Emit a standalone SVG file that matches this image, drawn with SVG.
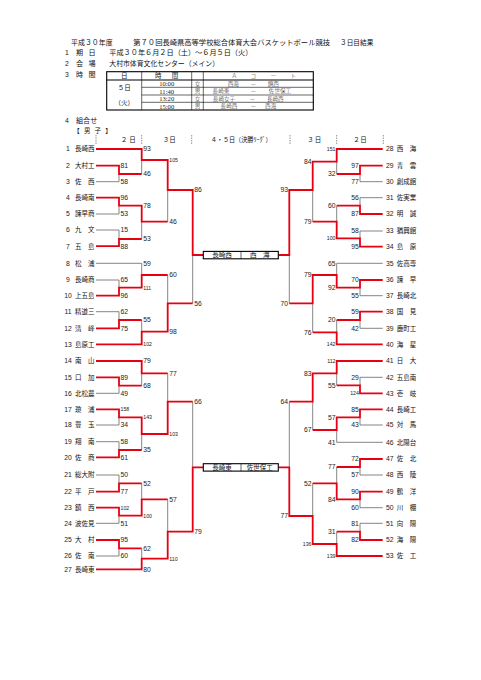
<svg xmlns="http://www.w3.org/2000/svg" width="481" height="680" viewBox="0 0 481 680">
<style>
.r{stroke:#e60012;stroke-width:1.8;fill:none}
.g{stroke:#666;stroke-width:0.8;fill:none}
.j{font-family:"Noto Sans CJK JP",sans-serif;font-size:6.5px;fill:#111}
.h{font-family:"Noto Sans CJK JP",sans-serif;font-size:7.1px;fill:#111}
.l{font-family:"Noto Sans CJK JP",sans-serif;font-size:5.6px;fill:#222;font-weight:300}
.d{font-family:"Liberation Sans",Arial,sans-serif;font-size:6.8px;fill:#222}
.s{font-size:5.2px}
.e{text-anchor:end}
.m{text-anchor:middle}
.sf{font-family:"Liberation Serif",serif;font-size:6.6px;fill:#222}
.tk{stroke:#777;stroke-width:0.8;stroke-dasharray:1.5 1}
.to{stroke:#000;stroke-width:1.1;fill:none}
.ti{stroke:#000;stroke-width:0.6;fill:none}
.bx{stroke:#000;stroke-width:1.1;fill:#fff}
</style>
<rect width="481" height="680" fill="#fff"/>

<g id="title">
<text class="h" x="71" y="45" textLength="41.7" lengthAdjust="spacingAndGlyphs">平成３０年度</text>
<text class="h" x="133.3" y="45" textLength="196.7" lengthAdjust="spacingAndGlyphs">第７０回長崎県高等学校総合体育大会バスケットボール競技</text>
<text class="h" x="340" y="45" textLength="33.3" lengthAdjust="spacingAndGlyphs">３日目結果</text>
</g>

<g id="info">
<text class="d" x="65" y="55">1</text><text class="h" x="76" y="55">期</text><text class="h" x="88.5" y="55">日</text>
<text class="h" x="109.3" y="55" textLength="143" lengthAdjust="spacingAndGlyphs">平成３０年６月２日（土）～６月５日（火）</text>
<text class="d" x="65" y="66">2</text><text class="h" x="76" y="66">会</text><text class="h" x="88.5" y="66">場</text>
<text class="h" x="109.3" y="66" textLength="109.7" lengthAdjust="spacingAndGlyphs">大村市体育文化センター（メイン）</text>
<text class="d" x="65" y="77">3</text><text class="h" x="76" y="77">時</text><text class="h" x="88.5" y="77">間</text>
<text class="d" x="65" y="122.7">4</text><text class="h" x="76" y="122.7">組合せ</text>
</g>

<g id="schedule">
<rect class="to" x="106.7" y="71.7" width="206.6" height="38.3"/>
<path class="to" d="M106.7,80H313.3"/>
<path class="ti" d="M141.7,87.3H313.3M141.7,95H313.3M141.7,102.3H313.3M141.7,71.7V110M191.7,71.7V110M203.3,71.7V110"/>
<text class="j m" x="124.3" y="78.2">日</text>
<text class="j m" x="158.3" y="78.2">時</text><text class="j m" x="175" y="78.2">間</text>
<text class="l m" x="234.3" y="78.1">Ａ</text><text class="l m" x="253.3" y="78.1">コ</text><text class="l m" x="273.3" y="78.1">ー</text><text class="l m" x="293.3" y="78.1">ト</text>
<text class="j m" x="124.3" y="89.9">５日</text>
<text class="j m" x="124.3" y="104.9">（火）</text>
<text class="sf m" x="166.7" y="85.9">10:00</text>
<text class="sf m" x="166.7" y="93.5">11:40</text>
<text class="sf m" x="166.7" y="101">13:20</text>
<text class="sf m" x="166.7" y="108.5">15:00</text>
<text class="l m" x="197.5" y="85.8">女</text>
<text class="l m" x="197.5" y="93.3">男</text>
<text class="l m" x="197.5" y="100.8">女</text>
<text class="l m" x="197.5" y="108.3">男</text>
<text class="l m" x="233.3" y="85.8">西海</text><text class="l m" x="253.3" y="85.8">－</text><text class="l m" x="273.3" y="85.8">鎮西</text>
<text class="l m" x="221" y="93.3">長崎東</text><text class="l m" x="253.3" y="93.3">－</text><text class="l m" x="280" y="93.3">佐世保工</text>
<text class="l m" x="224" y="100.8">長崎女子</text><text class="l m" x="252.3" y="100.8">－</text><text class="l m" x="275.3" y="100.8">長崎西</text>
<text class="l m" x="229" y="108.3">長崎西</text><text class="l m" x="253.3" y="108.3">－</text><text class="l m" x="270.7" y="108.3">西海</text>
</g>

<g id="bracket-header">
<text class="j" x="73.3" y="132.5" textLength="38.4" lengthAdjust="spacing">【 男 子 】</text>
<path class="tk" d="M96,135V145M141.7,135V145M191.7,135V145M290,135V145M336.7,135V145M383.3,135V145"/>
<text class="j m" x="128.3" y="142.4" textLength="15" lengthAdjust="spacing">２日</text>
<text class="j m" x="169.2" y="142.4" textLength="13" lengthAdjust="spacing">３日</text>
<text class="j" x="210.7" y="142.4" textLength="61" lengthAdjust="spacingAndGlyphs">４・５日（決勝ﾘｰｸﾞ）</text>
<text class="j m" x="314.2" y="142.4" textLength="14" lengthAdjust="spacing">３日</text>
<text class="j m" x="360" y="142.4" textLength="13.5" lengthAdjust="spacing">２日</text>
</g>

<g id="connectors">
<path class="g" d="M141.7,160V174M96,181.7H119V174M96,214H119V205.7M141.7,221.7V239M96,230H119V239M167.7,190V221.7M192.7,255V303.3M96,263.3H141.7V275M96,280H119V287.7M96,311.7H119V320M141.7,320V331.7M167.7,275V303.3M141.7,373.3V385.7M96,393.3H119V385.7M96,425H119V417.3M96,441.7H119V450M141.7,450V434M167.7,373.3V401.7M192.7,401.7V467.3M96,475H119V483.3M141.7,483.3V499.3M96,523.3H119V515.7M167.7,499.3V531.7M96,556H119V548.3M141.7,548.3V558.7"/>
<path class="g" d="M336.7,161.7V174M382.7,181.7H360V174M382.7,197.7H360V205.7M336.7,205.7V221.7M382.7,231H360V238.3M312.7,190V221.7M289.3,255V303.3M382.7,263.3H336.7V275M382.7,295.7H360V287.7M382.7,328.3H360V320M336.7,320V332.3M312.7,303.3V332.3M336.7,373.3V385.3M382.7,377.3H360V385.3M382.7,425H360V417.3M382.7,442.3H336.7V430M312.7,401.7V430M289.3,401.7V467.3M382.7,475H360V467M336.7,467V483.3M382.7,507.7H360V499.3M312.7,483.3V516M382.7,523.3H360V531.7M336.7,531.7V544"/>
<path class="r" d="M96,149H141.7V160H167.7V190H192.7V255H203.3M96,165.7H119V174H141.7M96,197.7H119V205.7H141.7V221.7H167.7M96,246.2H119V239H141.7M96,295.7H119V287.7H141.7V275H167.7M96,328.3H119V320H141.7M96,344.3H141.7V331.7H167.7V303.3H192.7M96,361H141.7V373.3H167.7M96,377.3H119V385.7H141.7M96,409.3H119V417.3H141.7V434H167.7V401.7H192.7M96,457.3H119V450H141.7M96,491.7H119V483.3H141.7M96,507.7H119V515.7H141.7V499.3H167.7M96,540H119V548.3H141.7M96,569.3H141.7V558.7H167.7V531.7H192.7V467.3H203.3"/>
<path class="r" d="M382.7,149H336.7V161.7H312.7V190H289.3V255H278.3M382.7,165.7H360V174H336.7M382.7,214H360V205.7H336.7M382.7,246.7H360V238.3H336.7V221.7H312.7M382.7,280H360V287.7H336.7V275H312.7V303.3H289.3M382.7,311.7H360V320H336.7M382.7,344.3H336.7V332.3H312.7M382.7,361H336.7V373.3H312.7V401.7H289.3M382.7,393.3H360V385.3H336.7M382.7,409.3H360V417.3H336.7V430H312.7M382.7,459H360V467H336.7M382.7,491.7H360V499.3H336.7V483.3H312.7M382.7,540H360V531.7H336.7M382.7,556H336.7V544H312.7V516H289.3V467.3H278.3"/>
<g id="scores-left" class="d">
<text x="120.6" y="168.1">81</text><text x="120.6" y="184.1">58</text><text x="120.6" y="200.1">96</text><text x="120.6" y="216.4">53</text><text x="120.6" y="232.4">15</text><text x="120.6" y="248.6">88</text>
<text x="120.6" y="282.4">65</text><text x="120.6" y="298.1">96</text><text x="120.6" y="314.1">62</text><text x="120.6" y="330.7">75</text>
<text x="120.6" y="379.7">89</text><text x="120.6" y="395.7">49</text><text class="s" x="120.6" y="411.2">158</text><text x="120.6" y="427.4">34</text><text x="120.6" y="444.1">58</text><text x="120.6" y="459.7">61</text>
<text x="120.6" y="477.4">50</text><text x="120.6" y="494.1">77</text><text class="s" x="120.6" y="509.6">102</text><text x="120.6" y="525.7">51</text><text x="120.6" y="542.4">95</text><text x="120.6" y="558.4">60</text>
<text x="143.3" y="151.4">93</text><text x="143.3" y="176.4">46</text><text x="143.3" y="208.1">78</text><text x="143.3" y="241.4">53</text><text x="143.3" y="265.7">59</text><text class="s" x="143.3" y="289.6">111</text><text x="143.3" y="322.4">55</text><text class="s" x="143.3" y="346.2">102</text>
<text x="143.3" y="363.4">79</text><text x="143.3" y="388.1">68</text><text class="s" x="143.3" y="419.2">143</text><text x="143.3" y="452.4">35</text><text x="143.3" y="485.7">52</text><text class="s" x="143.3" y="517.6">100</text><text x="143.3" y="550.7">62</text><text x="143.3" y="571.7">80</text>
<text class="s" x="169.3" y="161.9">105</text><text x="169.3" y="224.1">46</text><text x="169.3" y="277.4">60</text><text x="169.3" y="334.1">98</text><text x="169.3" y="375.7">77</text><text class="s" x="169.3" y="435.9">103</text><text x="169.3" y="501.7">57</text><text class="s" x="169.3" y="560.6">110</text>
<text x="194.3" y="192.4">86</text><text x="194.3" y="305.7">56</text><text x="194.3" y="404.1">66</text><text x="194.3" y="534.1">79</text>
</g>
<g id="scores-right" class="d e">
<text x="358.8" y="168.1">97</text><text x="358.8" y="184.1">77</text><text x="358.8" y="200.1">56</text><text x="358.8" y="216.4">87</text><text x="358.8" y="233.4">58</text><text x="358.8" y="249.1">95</text>
<text x="358.8" y="282.4">70</text><text x="358.8" y="298.1">55</text><text x="358.8" y="314.1">59</text><text x="358.8" y="330.7">42</text>
<text x="358.8" y="379.7">29</text><text class="s" x="358.8" y="395.2">124</text><text x="358.8" y="411.7">85</text><text x="358.8" y="427.4">43</text>
<text x="358.8" y="461.4">72</text><text x="358.8" y="477.4">57</text><text x="358.8" y="494.1">90</text><text x="358.8" y="510.1">60</text><text x="358.8" y="525.7">81</text><text x="358.8" y="542.4">82</text>
<text class="s" x="335.5" y="150.9">151</text><text x="335.5" y="176.4">32</text><text x="335.5" y="208.1">60</text><text class="s" x="335.5" y="240.2">100</text><text x="335.5" y="265.7">65</text><text x="335.5" y="290.1">92</text><text x="335.5" y="322.4">20</text><text class="s" x="335.5" y="346.2">142</text>
<text class="s" x="335.5" y="362.9">112</text><text x="335.5" y="387.7">55</text><text x="335.5" y="419.7">57</text><text x="335.5" y="444.7">41</text><text x="335.5" y="469.4">77</text><text x="335.5" y="501.7">84</text><text x="335.5" y="534.1">31</text><text class="s" x="335.5" y="557.9">139</text>
<text x="311.5" y="164.1">84</text><text x="311.5" y="224.1">79</text><text x="311.5" y="277.4">79</text><text x="311.5" y="334.7">76</text><text x="311.5" y="375.7">83</text><text x="311.5" y="432.4">67</text><text x="311.5" y="485.7">52</text><text class="s" x="311.5" y="545.9">136</text>
<text x="288" y="192.4">93</text><text x="288" y="305.7">70</text><text x="288" y="404.1">64</text><text x="288" y="518.4">77</text>
</g>
</g>

<g id="final-top">
<rect class="bx" x="203.3" y="251.4" width="75" height="7.4"/>
<path class="ti" d="M241,251.4V258.8"/>
<text class="j m" x="222.1" y="257.4">長崎西</text>
<text class="j m" x="259.7" y="257.4">西　海</text>
</g>
<g id="final-bottom">
<rect class="bx" x="203.3" y="463.7" width="75" height="7.4"/>
<path class="ti" d="M241,463.7V471.1"/>
<text class="j m" x="222.1" y="469.7">長崎東</text>
<text class="j m" x="259.7" y="469.7">佐世保工</text>
</g>

<g id="teams-left">
<g id="t1"><text class="d m" x="68" y="151.4">1</text><text class="j" x="75" y="151.4">長崎西</text></g>
<g id="t2"><text class="d m" x="68" y="168.1">2</text><text class="j" x="75" y="168.1">大村工</text></g>
<g id="t3"><text class="d m" x="68" y="184.1">3</text><text class="j" x="75" y="184.1">佐　西</text></g>
<g id="t4"><text class="d m" x="68" y="200.1">4</text><text class="j" x="75" y="200.1">長崎南</text></g>
<g id="t5"><text class="d m" x="68" y="216.4">5</text><text class="j" x="75" y="216.4">諫早商</text></g>
<g id="t6"><text class="d m" x="68" y="232.4">6</text><text class="j" x="75" y="232.4">九　文</text></g>
<g id="t7"><text class="d m" x="68" y="248.6">7</text><text class="j" x="75" y="248.6">五　島</text></g>
<g id="t8"><text class="d m" x="68" y="265.7">8</text><text class="j" x="75" y="265.7">松　浦</text></g>
<g id="t9"><text class="d m" x="68" y="282.4">9</text><text class="j" x="75" y="282.4">長崎商</text></g>
<g id="t10"><text class="d m" x="68" y="298.1">10</text><text class="j" x="75" y="298.1">上五島</text></g>
<g id="t11"><text class="d m" x="68" y="314.1">11</text><text class="j" x="75" y="314.1">精道三</text></g>
<g id="t12"><text class="d m" x="68" y="330.7">12</text><text class="j" x="75" y="330.7">清　峰</text></g>
<g id="t13"><text class="d m" x="68" y="346.7">13</text><text class="j" x="75" y="346.7">島原工</text></g>
<g id="t14"><text class="d m" x="68" y="363.4">14</text><text class="j" x="75" y="363.4">南　山</text></g>
<g id="t15"><text class="d m" x="68" y="379.7">15</text><text class="j" x="75" y="379.7">口　加</text></g>
<g id="t16"><text class="d m" x="68" y="395.7">16</text><text class="j" x="75" y="395.7">北松農</text></g>
<g id="t17"><text class="d m" x="68" y="411.7">17</text><text class="j" x="75" y="411.7">瓊　浦</text></g>
<g id="t18"><text class="d m" x="68" y="427.4">18</text><text class="j" x="75" y="427.4">豊　玉</text></g>
<g id="t19"><text class="d m" x="68" y="444.1">19</text><text class="j" x="75" y="444.1">翔　南</text></g>
<g id="t20"><text class="d m" x="68" y="459.7">20</text><text class="j" x="75" y="459.7">佐　商</text></g>
<g id="t21"><text class="d m" x="68" y="477.4">21</text><text class="j" x="75" y="477.4">総大附</text></g>
<g id="t22"><text class="d m" x="68" y="494.1">22</text><text class="j" x="75" y="494.1">平　戸</text></g>
<g id="t23"><text class="d m" x="68" y="510.1">23</text><text class="j" x="75" y="510.1">鎮　西</text></g>
<g id="t24"><text class="d m" x="68" y="525.7">24</text><text class="j" x="75" y="525.7">波佐見</text></g>
<g id="t25"><text class="d m" x="68" y="542.4">25</text><text class="j" x="75" y="542.4">大　村</text></g>
<g id="t26"><text class="d m" x="68" y="558.4">26</text><text class="j" x="75" y="558.4">佐　南</text></g>
<g id="t27"><text class="d m" x="68" y="571.7">27</text><text class="j" x="75" y="571.7">長崎東</text></g>
</g>

<g id="teams-right">
<g id="t28"><text class="d m" x="389.7" y="151.4">28</text><text class="j" x="396.7" y="151.4">西　海</text></g>
<g id="t29"><text class="d m" x="389.7" y="168.1">29</text><text class="j" x="396.7" y="168.1">青　雲</text></g>
<g id="t30"><text class="d m" x="389.7" y="184.1">30</text><text class="j" x="396.7" y="184.1">創成館</text></g>
<g id="t31"><text class="d m" x="389.7" y="200.1">31</text><text class="j" x="396.7" y="200.1">佐実業</text></g>
<g id="t32"><text class="d m" x="389.7" y="216.4">32</text><text class="j" x="396.7" y="216.4">明　誠</text></g>
<g id="t33"><text class="d m" x="389.7" y="233.4">33</text><text class="j" x="396.7" y="233.4">猶興館</text></g>
<g id="t34"><text class="d m" x="389.7" y="249.1">34</text><text class="j" x="396.7" y="249.1">島　原</text></g>
<g id="t35"><text class="d m" x="389.7" y="265.7">35</text><text class="j" x="396.7" y="265.7">佐高専</text></g>
<g id="t36"><text class="d m" x="389.7" y="282.4">36</text><text class="j" x="396.7" y="282.4">諫　早</text></g>
<g id="t37"><text class="d m" x="389.7" y="298.1">37</text><text class="j" x="396.7" y="298.1">長崎北</text></g>
<g id="t38"><text class="d m" x="389.7" y="314.1">38</text><text class="j" x="396.7" y="314.1">国　見</text></g>
<g id="t39"><text class="d m" x="389.7" y="330.7">39</text><text class="j" x="396.7" y="330.7">鹿町工</text></g>
<g id="t40"><text class="d m" x="389.7" y="346.7">40</text><text class="j" x="396.7" y="346.7">海　星</text></g>
<g id="t41"><text class="d m" x="389.7" y="363.4">41</text><text class="j" x="396.7" y="363.4">日　大</text></g>
<g id="t42"><text class="d m" x="389.7" y="379.7">42</text><text class="j" x="396.7" y="379.7">五島南</text></g>
<g id="t43"><text class="d m" x="389.7" y="395.7">43</text><text class="j" x="396.7" y="395.7">壱　岐</text></g>
<g id="t44"><text class="d m" x="389.7" y="411.7">44</text><text class="j" x="396.7" y="411.7">長崎工</text></g>
<g id="t45"><text class="d m" x="389.7" y="427.4">45</text><text class="j" x="396.7" y="427.4">対　馬</text></g>
<g id="t46"><text class="d m" x="389.7" y="444.7">46</text><text class="j" x="396.7" y="444.7">北陽台</text></g>
<g id="t47"><text class="d m" x="389.7" y="461.4">47</text><text class="j" x="396.7" y="461.4">佐　北</text></g>
<g id="t48"><text class="d m" x="389.7" y="477.4">48</text><text class="j" x="396.7" y="477.4">西　陵</text></g>
<g id="t49"><text class="d m" x="389.7" y="494.1">49</text><text class="j" x="396.7" y="494.1">鶴　洋</text></g>
<g id="t50"><text class="d m" x="389.7" y="510.1">50</text><text class="j" x="396.7" y="510.1">川　棚</text></g>
<g id="t51"><text class="d m" x="389.7" y="525.7">51</text><text class="j" x="396.7" y="525.7">向　陽</text></g>
<g id="t52"><text class="d m" x="389.7" y="542.4">52</text><text class="j" x="396.7" y="542.4">海　陽</text></g>
<g id="t53"><text class="d m" x="389.7" y="558.4">53</text><text class="j" x="396.7" y="558.4">佐　工</text></g>
</g>
</svg>
